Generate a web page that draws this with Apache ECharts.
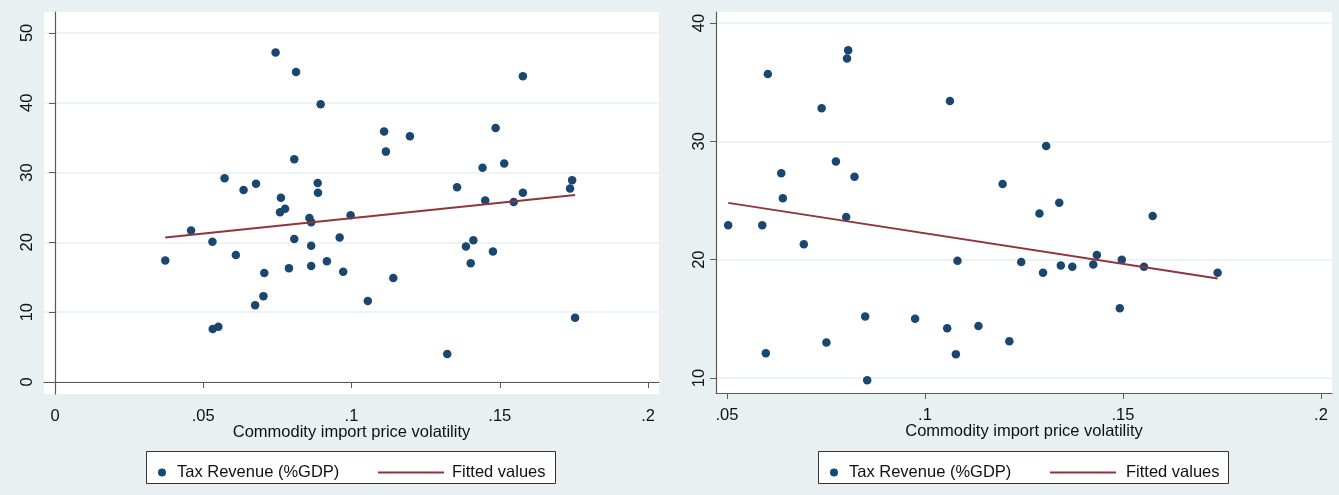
<!DOCTYPE html>
<html>
<head>
<meta charset="utf-8">
<script src="https://cdn.jsdelivr.net/npm/echarts@6/dist/echarts.min.js"></script>
<style>
html,body{margin:0;padding:0;background:#e9f0f2;}
#chart{width:1339px;height:495px;}
</style>
</head>
<body>
<div id="chart"></div>
<script>
// ---- Data ----
const seriesScatterName = 'Tax Revenue (%GDP)';
const seriesFitName = 'Fitted values';
const xAxisTitle = 'Commodity import price volatility';

// Left panel
const leftX = [.0744,.0813,.0896,.0807,.0572,.0636,.0678,.0762,.0759,.0776,.0886,.0887,.0858,.0864,.0459,.0531,.0807,.0864,.0372,
  .0610,.0706,.0703,.0675,.0532,.0551,.0789,.0864,.0917,.0972,.0960,.1055,.1141,.1323,.1386,.1411,.1402,.1477,.1754,
  .1578,.1110,.1197,.1116,.1486,.1442,.1515,.1356,.1744,.1737,.1578,.1451,.1547,.0997];
const leftY = [47.2,44.4,39.8,31.9,29.2,27.5,28.4,26.4,24.3,24.8,28.5,27.1,23.5,22.9,21.7,20.1,20.5,19.5,17.4,
  18.2,15.6,12.3,11.0,7.6,7.9,16.3,16.6,17.3,15.8,20.7,11.6,14.9,4.0,19.4,20.3,17.0,18.7,9.2,
  43.8,35.9,35.2,33.0,36.4,30.7,31.3,27.9,28.9,27.7,27.1,26.0,25.8,23.9];
const leftFitX = [.0372,.1754];
const leftFitY = [20.7,26.8];
const leftXTicks = [0,.05,.1,.15,.2];
const leftYTicks = [0,10,20,30,40,50];

// Right panel
const rightX = [.0503,.0589,.0603,.0637,.0641,.0694,.0739,.0775,.0803,.0806,.0822,.0801,.1063,.1196,.1306,.1289,.1339,.1575,
  .1082,.0598,.0751,.0849,.0854,.0975,.1056,.1078,.1135,.1213,.1243,.1298,.1343,.1372,.1425,.1434,.1497,.1492,.1553,.1739];
const rightY = [22.9,22.9,35.7,27.3,25.2,21.3,32.8,28.3,37.0,37.7,27.0,23.6,33.4,26.4,29.6,23.9,24.8,23.7,
  19.9,12.1,13.0,15.2,9.8,15.0,14.2,12.0,14.4,13.1,19.8,18.9,19.5,19.4,19.6,20.4,20.0,15.9,19.4,18.9];
const rightFitX = [.0503,.1739];
const rightFitY = [24.8,18.4];
const rightXTicks = [.05,.1,.15,.2];
const rightYTicks = [10,20,30,40];

// ---- Styling ----
const NAVY = '#1a476f';
const MAROON = '#90353b';
const AXIS = '#5a5a5a';
const GRIDC = '#e9eff2';
const FONT = 'Liberation Sans, Arial, sans-serif';
const FS = 16.5;

function zip(a,b){return a.map((v,i)=>[v,b[i]]);}
function fmtX(v){ if (Math.abs(v) < 1e-9) return '0'; return String(+(+v).toFixed(3)).replace(/^0\./,'.'); }

function xAxisDef(gi, min, max, ticks){
  return {
    type:'value', gridIndex:gi, min:min, max:max,
    name:xAxisTitle, nameLocation:'middle', nameGap:30, nameMoveOverlap:false,
    nameTextStyle:{color:'#111', fontSize:FS, fontFamily:FONT},
    axisLine:{show:true, lineStyle:{color:AXIS, width:1.2}},
    axisTick:{show:true, length:6, customValues:ticks, lineStyle:{color:AXIS}},
    axisLabel:{customValues:ticks, formatter:fmtX, color:'#111', fontSize:FS, fontFamily:FONT, margin:14},
    splitLine:{show:false}
  };
}
function yAxisDef(gi, min, max, ticks){
  return {
    type:'value', gridIndex:gi, min:min, max:max,
    axisLine:{show:true, lineStyle:{color:AXIS, width:1.2}},
    axisTick:{show:true, length:6, customValues:ticks, lineStyle:{color:AXIS}},
    axisLabel:{customValues:ticks, rotate:90, color:'#111', fontSize:FS, fontFamily:FONT, margin:8},
    splitLine:{show:true, lineStyle:{color:GRIDC, width:1.5}}
  };
}

function dotLegend(left){
  return {left:left, top:459, itemWidth:8, itemHeight:8, selectedMode:false,
    data:[{name:seriesScatterName, icon:'circle'}],
    textStyle:{color:'#111', fontSize:FS, fontFamily:FONT, padding:[0,0,0,6]}};
}
function lineLegend(left, pad){
  return {left:left, top:459, itemWidth:66, itemHeight:2, selectedMode:false,
    data:[{name:seriesFitName, icon:'rect', itemStyle:{color:MAROON}}],
    textStyle:{color:'#111', fontSize:FS, fontFamily:FONT, padding:[0,0,0,pad]}};
}

const chart = echarts.init(document.getElementById('chart'), null, {renderer:'canvas'});
chart.setOption({
  backgroundColor:'#e9f0f2',
  animation:false,
  grid:[
    {left:44, top:12, width:615, height:382, show:true, backgroundColor:'#ffffff', borderWidth:0},
    {left:716, top:12, width:616, height:381, show:true, backgroundColor:'#ffffff', borderWidth:0}
  ],
  xAxis:[
    xAxisDef(0, -0.0037, 0.2037, leftXTicks),
    xAxisDef(1, 0.04722, 0.20278, rightXTicks)
  ],
  yAxis:[
    yAxisDef(0, -1.72, 53.0, leftYTicks),
    yAxisDef(1, 8.732, 40.93, rightYTicks)
  ],
  legend:[
    dotLegend(153),
    lineLegend(373, 3),
    dotLegend(825),
    lineLegend(1045, 5)
  ],
  graphic:[
    {type:'rect', shape:{x:146.5, y:451.5, width:409, height:32}, style:{fill:'#ffffff', stroke:'#333', lineWidth:1}, z:-1},
    {type:'rect', shape:{x:818.5, y:451.5, width:410, height:32}, style:{fill:'#ffffff', stroke:'#333', lineWidth:1}, z:-1}
  ],
  series:[
    {type:'scatter', name:seriesScatterName, xAxisIndex:0, yAxisIndex:0, data:zip(leftX,leftY),
     symbol:'circle', symbolSize:8.5, itemStyle:{color:NAVY, opacity:1}},
    {type:'line', name:seriesFitName, xAxisIndex:0, yAxisIndex:0, data:zip(leftFitX,leftFitY),
     symbol:'none', lineStyle:{color:MAROON, width:2}, itemStyle:{color:MAROON}, z:3},
    {type:'scatter', name:seriesScatterName, xAxisIndex:1, yAxisIndex:1, data:zip(rightX,rightY),
     symbol:'circle', symbolSize:8.5, itemStyle:{color:NAVY, opacity:1}},
    {type:'line', name:seriesFitName, xAxisIndex:1, yAxisIndex:1, data:zip(rightFitX,rightFitY),
     symbol:'none', lineStyle:{color:MAROON, width:2}, itemStyle:{color:MAROON}, z:3}
  ]
});
</script>
</body>
</html>
